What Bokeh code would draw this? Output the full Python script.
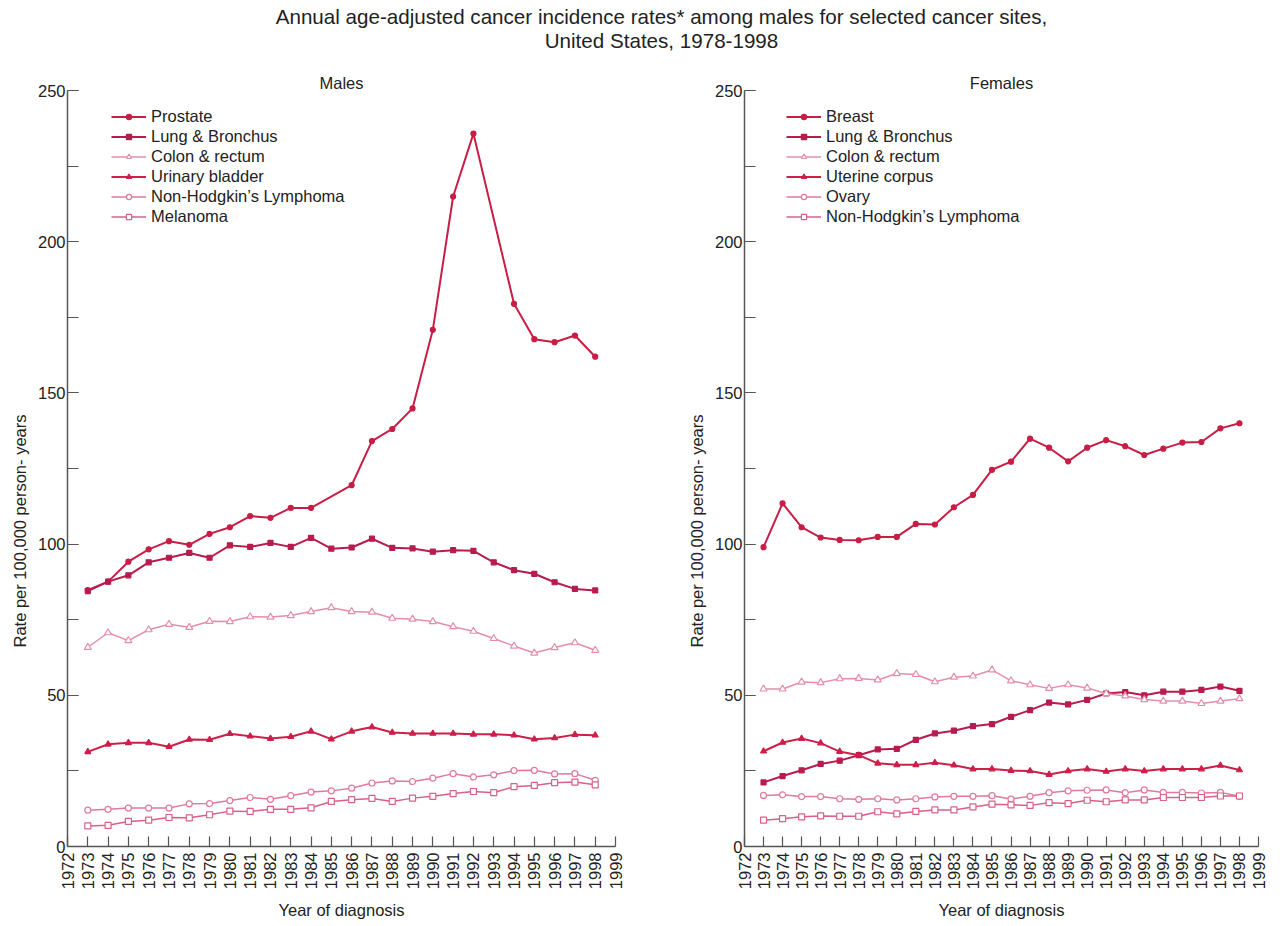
import math
from bokeh.plotting import figure
from bokeh.models import (Range1d, FixedTicker, SingleIntervalTicker, Label,
                          Legend, LegendItem, Title)
from bokeh.layouts import column, row
from bokeh.embed import file_html
from bokeh.resources import INLINE

# ---------------- data ----------------
YEARS = list(range(1973, 1999))
X_TICKS = list(range(1972, 2000))

TITLE_1 = "Annual age-adjusted cancer incidence rates* among males for selected cancer sites,"
TITLE_2 = "United States, 1978-1998"
Y_LABEL = "Rate per 100,000 person- years"
X_LABEL = "Year of diagnosis"

# Males
PROSTATE_YEARS = [1973, 1974, 1975, 1976, 1977, 1978, 1979, 1980, 1981, 1982, 1983, 1984,
                  1986, 1987, 1988, 1989, 1990, 1991, 1992, 1994, 1995, 1996, 1997, 1998]
PROSTATE = [84.8, 87.6, 94.2, 98.3, 101.0, 99.8, 103.4, 105.6, 109.3, 108.7, 112.0, 112.0,
            119.5, 134.1, 138.1, 144.9, 170.9, 215.0, 235.8, 179.5, 167.8, 166.8, 169.0, 162.0]
LUNG_M = [84.5, 87.6, 89.7, 94.0, 95.5, 97.1, 95.5, 99.6, 99.1, 100.4, 99.1, 102.1, 98.5,
          98.9, 101.8, 98.8, 98.6, 97.5, 98.0, 97.8, 94.0, 91.4, 90.2, 87.4, 85.2, 84.7]
COLON_M = [65.9, 70.7, 68.1, 71.7, 73.5, 72.5, 74.5, 74.4, 76.0, 75.9, 76.4, 77.7, 79.0,
           77.7, 77.5, 75.5, 75.2, 74.4, 72.7, 71.2, 68.8, 66.3, 64.0, 65.8, 67.4, 64.9]
BLADDER = [31.3, 33.8, 34.3, 34.3, 33.0, 35.4, 35.3, 37.3, 36.5, 35.7, 36.3, 38.1, 35.5,
           38.1, 39.5, 37.7, 37.4, 37.4, 37.4, 37.1, 37.1, 36.8, 35.5, 35.9, 37.0, 36.8]
NHL_M = [12.0, 12.3, 12.7, 12.7, 12.7, 14.1, 14.2, 15.2, 16.2, 15.6, 16.8, 18.0, 18.4,
         19.3, 21.0, 21.7, 21.5, 22.6, 24.1, 23.0, 23.7, 25.1, 25.2, 24.0, 24.1, 21.9]
MELANOMA = [6.8, 7.0, 8.3, 8.7, 9.6, 9.5, 10.5, 11.7, 11.6, 12.3, 12.3, 12.8, 14.9,
            15.5, 15.9, 14.9, 16.0, 16.6, 17.5, 18.2, 17.8, 19.8, 20.2, 21.1, 21.3, 20.4]

# Females
BREAST = [99.0, 113.5, 105.6, 102.2, 101.4, 101.3, 102.4, 102.4, 106.7, 106.5, 112.2, 116.3,
          124.6, 127.3, 134.9, 131.9, 127.4, 131.9, 134.4, 132.4, 129.5, 131.6, 133.6, 133.8,
          138.3, 140.0]
LUNG_F = [21.2, 23.3, 25.2, 27.3, 28.4, 30.2, 32.1, 32.3, 35.3, 37.4, 38.3, 39.8, 40.5,
          42.9, 45.1, 47.6, 47.0, 48.5, 50.6, 51.1, 50.0, 51.2, 51.2, 51.8, 52.9, 51.5]
COLON_F = [52.1, 52.1, 54.4, 54.2, 55.5, 55.6, 55.1, 57.2, 56.9, 54.5, 56.0, 56.4, 58.4,
           54.8, 53.5, 52.3, 53.5, 52.4, 50.6, 49.8, 48.6, 48.1, 48.1, 47.3, 48.1, 48.9]
UTERINE = [31.5, 34.4, 35.7, 34.2, 31.4, 30.2, 27.5, 27.0, 27.0, 27.7, 26.9, 25.6, 25.6,
           25.1, 25.0, 23.8, 25.0, 25.6, 24.8, 25.6, 25.0, 25.6, 25.6, 25.6, 26.8, 25.3]
OVARY = [16.9, 17.1, 16.5, 16.5, 15.8, 15.6, 15.8, 15.4, 15.8, 16.4, 16.6, 16.6, 16.8,
         15.7, 16.6, 17.8, 18.4, 18.6, 18.7, 17.8, 18.7, 17.9, 17.9, 17.7, 17.9, 16.6]
NHL_F = [8.7, 9.2, 9.8, 10.1, 10.0, 10.0, 11.5, 10.8, 11.6, 12.1, 12.1, 13.1, 14.0,
         13.8, 13.6, 14.5, 14.2, 15.3, 14.8, 15.4, 15.4, 16.2, 16.2, 16.2, 16.7, 16.7]

# ---------------- styles ----------------
FONT = "Liberation Sans"
TXT = "#222222"
AX = "#555555"
FS = "16.5px"

STYLE_SOLID_DOT = dict(color="#c81d45", lw=2.0, marker="circle", size=5, fill="#c81d45")
STYLE_SQUARE = dict(color="#b81c4c", lw=2.0, marker="square", size=5, fill="#b81c4c")
STYLE_TRI_OPEN = dict(color="#e58ea9", lw=1.5, marker="triangle", size=7, fill="white")
STYLE_TRI = dict(color="#cc1f4a", lw=2.0, marker="triangle", size=6, fill="#cc1f4a")
STYLE_CIRC_OPEN = dict(color="#e07a9b", lw=1.5, marker="circle", size=6, fill="white")
STYLE_SQ_OPEN = dict(color="#d8608a", lw=1.5, marker="square", size=6, fill="white")


def make_panel(title, series, frame_width, border_right, legend_x):
    p = figure(frame_width=frame_width, frame_height=777,
               x_range=Range1d(1972, 1999), y_range=Range1d(0, 257),
               output_backend="svg", toolbar_location=None, title=None,
               min_border_left=67, min_border_right=border_right,
               min_border_top=0, min_border_bottom=71,
               outline_line_color=None, background_fill_color="white",
               border_fill_color="white")
    p.grid.visible = False

    xa = p.xaxis[0]
    xa.ticker = FixedTicker(ticks=X_TICKS, minor_ticks=[])
    xa.major_label_orientation = math.pi / 2
    xa.major_tick_in = 10
    xa.major_tick_out = 0
    xa.major_label_standoff = 6
    xa.major_label_text_font = FONT
    xa.major_label_text_font_size = "16.5px"
    xa.major_label_text_color = TXT
    xa.axis_line_color = AX
    xa.axis_line_width = 1.5
    xa.major_tick_line_color = AX
    xa.major_tick_line_width = 1.2
    xa.axis_label = X_LABEL
    xa.axis_label_standoff = 9
    xa.axis_label_text_font = FONT
    xa.axis_label_text_font_size = FS
    xa.axis_label_text_font_style = "normal"
    xa.axis_label_text_color = TXT

    ya = p.yaxis[0]
    ya.ticker = SingleIntervalTicker(interval=50, num_minor_ticks=2)
    ya.bounds = (0, 250)
    ya.major_tick_in = 11
    ya.major_tick_out = 0
    ya.minor_tick_in = 11
    ya.minor_tick_out = 0
    ya.major_label_standoff = 2
    ya.major_label_text_font = FONT
    ya.major_label_text_font_size = FS
    ya.major_label_text_color = TXT
    ya.axis_line_color = AX
    ya.axis_line_width = 1.5
    ya.major_tick_line_color = AX
    ya.minor_tick_line_color = AX
    ya.major_tick_line_width = 1.2
    ya.minor_tick_line_width = 1.2

    items = []
    for name, xs, ys, st in series:
        r1 = p.line(xs, ys, line_color=st["color"], line_width=st["lw"])
        r2 = p.scatter(xs, ys, marker=st["marker"], size=st["size"],
                       line_color=st["color"], fill_color=st["fill"], line_width=1.2)
        items.append(LegendItem(label=name, renderers=[r1, r2]))

    legend = Legend(items=items, location=(legend_x, 620),
                    glyph_width=35, glyph_height=13, label_height=20,
                    label_standoff=5, spacing=0, padding=0, margin=0,
                    label_text_font=FONT, label_text_font_size=FS,
                    label_text_color=TXT, background_fill_alpha=0,
                    border_line_color=None)
    p.add_layout(legend)

    p.add_layout(Label(x=1985.5, y=250, y_offset=8, text=title,
                       text_font=FONT, text_font_size=FS, text_color=TXT,
                       text_align="center", text_baseline="middle"))
    p.add_layout(Title(text=Y_LABEL, align="left", offset=199, vertical_align="top",
                       standoff=8, text_font=FONT, text_font_size=FS,
                       text_font_style="normal", text_color=TXT), "left")
    return p


males = [
    ("Prostate", PROSTATE_YEARS, PROSTATE, STYLE_SOLID_DOT),
    ("Lung & Bronchus", YEARS, LUNG_M, STYLE_SQUARE),
    ("Colon & rectum", YEARS, COLON_M, STYLE_TRI_OPEN),
    ("Urinary bladder", YEARS, BLADDER, STYLE_TRI),
    ("Non-Hodgkin\u2019s Lymphoma", YEARS, NHL_M, STYLE_CIRC_OPEN),
    ("Melanoma", YEARS, MELANOMA, STYLE_SQ_OPEN),
]
females = [
    ("Breast", YEARS, BREAST, STYLE_SOLID_DOT),
    ("Lung & Bronchus", YEARS, LUNG_F, STYLE_SQUARE),
    ("Colon & rectum", YEARS, COLON_F, STYLE_TRI_OPEN),
    ("Uterine corpus", YEARS, UTERINE, STYLE_TRI),
    ("Ovary", YEARS, OVARY, STYLE_CIRC_OPEN),
    ("Non-Hodgkin\u2019s Lymphoma", YEARS, NHL_F, STYLE_SQ_OPEN),
]

p1 = make_panel("Males", males, 548, 62, 44)
p2 = make_panel("Females", females, 514, 8, 42)

# title strip: a bare figure whose frame is measured in pixels
TH = 69
pt = figure(width=1266, height=TH, x_range=Range1d(0, 1266), y_range=Range1d(0, TH),
            output_backend="svg", toolbar_location=None, title=None,
            x_axis_location=None, y_axis_location=None, min_border=0,
            outline_line_color=None, background_fill_color="white",
            border_fill_color="white")
pt.grid.visible = False
for txt, yy in ((TITLE_1, TH - 16), (TITLE_2, TH - 40)):
    pt.add_layout(Label(x=661, y=yy, text=txt, text_font=FONT, text_font_size="20.6px",
                        text_color=TXT, text_align="center", text_baseline="middle"))

layout = column(pt, row(p1, p2))

with open("out.html", "w") as f:
    f.write(file_html(layout, INLINE))
